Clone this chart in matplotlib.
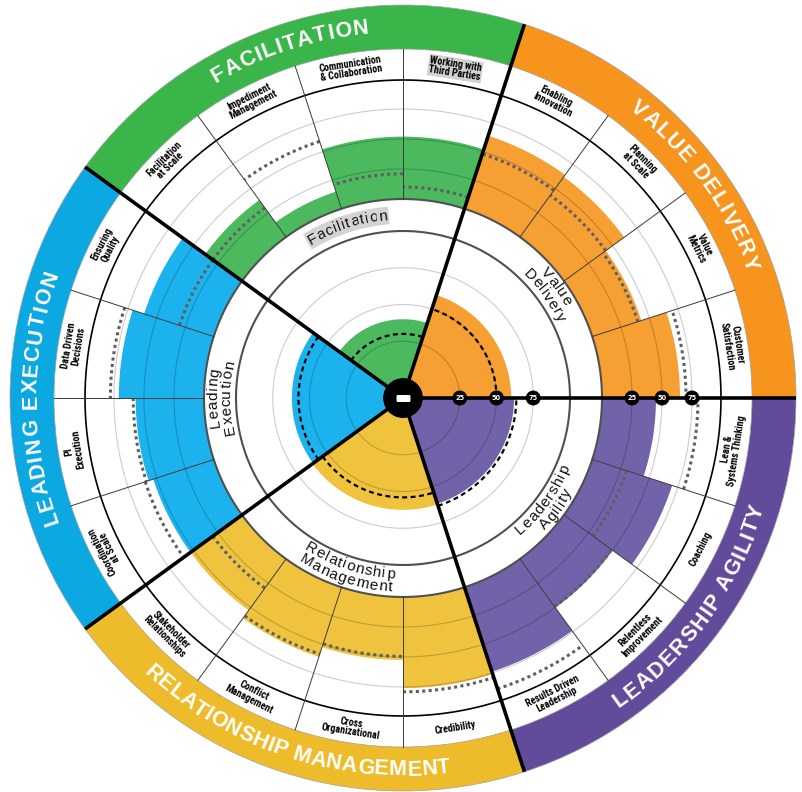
import numpy as np
import matplotlib
matplotlib.use("Agg")
import matplotlib.pyplot as plt
from matplotlib import font_manager
from matplotlib.font_manager import FontProperties, findfont, get_font

# five competency groups, counter-clockwise from 3 o'clock
group_titles = ["VALUE DELIVERY", "FACILITATION", "LEADING EXECUTION",
                "RELATIONSHIP MANAGEMENT", "LEADERSHIP AGILITY"]
inner_titles = ["Value\nDelivery", "Facilitation", "Leading\nExecution",
                "Relationship\nManagement", "Leadership\nAgility"]
group_score = [60, 40, 62, 62.5, 62]
group_bench = [50, 30, 57.5, 54, 63.5]

competencies = [
    "Customer\nSatisfaction", "Value\nMetrics", "Planning\nat Scale", "Enabling\nInnovation",
    "Working with\nThird Parties", "Communication\n& Collaboration", "Impediment\nManagement",
    "Facilitation\nat Scale",
    "Ensuring\nQuality", "Data Driven\nDecisions", "PI\nExecution", "Coordination\nat Scale",
    "Stakeholder\nRelationships", "Conflict\nManagement", "Cross\nOrganizational", "Credibility",
    "Results Driven\nLeadership", "Relentless\nImprovement", "Coaching", "Lean &\nSystems Thinking",
]
comp_score = [65, 43, 62, 64, 52, 52, 15, 38, 61, 71, 57, 53,
              53, 61, 52.5, 76, 74, 50, 70, 45]
comp_bench = [70, 40, 43, 48, 10, 21, 59, 30, 30, 78, 59, 60,
              30, 58.5, 49.5, 79, 89, 49, 30, 80]
ticks = [25, 50, 75]

band_colors = ["#F7941D", "#3AB54A", "#0BA8E2", "#EEBC2A", "#634B9C"]
bar_colors = ["#F6A033", "#4CB95E", "#1CB2ED", "#F0C33E", "#7262A9"]
title_spans = [31.8, 25.4, 39.6, 50.7, 38.5]   # degrees covered by each band title

# radii in pixels (1 r unit = 1 px)
R_IN0, R_IN1 = 20, 167
R_OUT0, R_OUT1 = 199, 319
R_LAB = 318
R_BAND, R_EDGE = 349, 393


def r_in(v):
    return R_IN0 + (R_IN1 - R_IN0) * np.asarray(v, dtype=float) / 100


def r_out(v):
    return R_OUT0 + (R_OUT1 - R_OUT0) * np.asarray(v, dtype=float) / 100


def pick_family(cands, fallback):
    have = {(f.name, f.weight) for f in font_manager.fontManager.ttflist}
    for c in cands:
        if (c, 700) in have:
            return c
    return fallback


COND = pick_family(["Roboto Condensed", "Archivo Narrow", "Saira SemiCondensed"], "DejaVu Sans")


def arc_text(ax, text, r, theta_c, size, outward, span=None, track=0.0,
             family="Liberation Sans", weight="normal", **kw):
    fp = FontProperties(family=family, weight=weight, size=size)
    font = get_font(findfont(fp))
    font.set_size(size, 72)
    adv = np.array([font.load_char(ord(c)).linearHoriAdvance / 65536 for c in text]) * 100 / 72
    if span is not None:
        track = (np.deg2rad(span) * r - adv.sum()) / (len(text) - 1)
    pos = np.cumsum(adv + track) - adv / 2 - track
    total = adv.sum() + track * (len(text) - 1)
    offs = (pos - total / 2) / r
    sign = -1 if outward else 1
    for c, o in zip(text, offs):
        th = np.deg2rad(theta_c) + sign * o
        rot = np.rad2deg(th) - 90 if outward else np.rad2deg(th) + 90
        ax.text(th, r, c, fontproperties=fp, rotation=rot, rotation_mode="anchor",
                ha="center", va="center", **kw)


fig = plt.figure(figsize=(8.02, 7.92), dpi=100)
cx, cy, R = 403, 792 - 398, 400
ax = fig.add_axes([(cx - R) / 802, (cy - R) / 792, 2 * R / 802, 2 * R / 792], projection="polar")

ng, nc = len(group_titles), len(competencies)
gw, cw = 2 * np.pi / ng, 2 * np.pi / nc
th_g = (np.arange(ng) + 0.5) * gw
th_c = (np.arange(nc) + 0.5) * cw
ccol = [bar_colors[j // 4] for j in range(nc)]
full = np.linspace(0, 2 * np.pi, 721)

# outer coloured band
ax.bar(th_g, R_EDGE - R_BAND, width=gw, bottom=R_BAND, color=band_colors,
       edgecolor="#a0a0a0", linewidth=0.5)

# bars
ax.bar(th_g, r_in(group_score) - R_IN0, width=gw, bottom=R_IN0, color=bar_colors, linewidth=0)
ax.bar(th_c, r_out(comp_score) - R_OUT0, width=cw, bottom=R_OUT0, color=ccol, linewidth=0)

# grid rings
for t in ticks:
    ax.plot(full, np.full_like(full, r_in(t)), color="k", alpha=0.2, lw=0.8)
    ax.plot(full, np.full_like(full, r_out(t)), color="k", alpha=0.2, lw=0.8)
ax.plot(full, np.full_like(full, R_IN1), color="#505050", lw=1.5)
ax.plot(full, np.full_like(full, R_OUT0), color="#505050", lw=1.5)
ax.plot(full, np.full_like(full, R_LAB), color="k", lw=1.2)

# benchmarks
for i, b in enumerate(group_bench):
    th = np.linspace(i * gw, (i + 1) * gw, 100)
    ax.plot(th, np.full_like(th, r_in(b)), color="k", lw=1.6, ls=(0, (2.2, 1.6)))
for j, b in enumerate(comp_bench):
    th = np.linspace(j * cw, (j + 1) * cw, 40)
    ax.plot(th, np.full_like(th, r_out(b)), color="#5e5f62", lw=2.2, ls=(0, (1, 1.1)))

# dividers
for j in range(nc):
    if j % 4:
        ax.plot([j * cw] * 2, [R_OUT0, R_BAND], color="#3a3a3a", lw=0.7)
for i in range(ng):
    ax.plot([i * gw] * 2, [0, R_EDGE], color="k", lw=2.6, solid_capstyle="butt", zorder=3)

# centre button
ax.bar(0, R_IN0, width=2 * np.pi, bottom=0, color="k", linewidth=0, zorder=5)
ax.plot(0, 0, marker="_", ms=10, mew=3.8, color="white", zorder=6)

# tick badges
for t in ticks:
    for r in (r_in(t), r_out(t)):
        ax.text(0, r, str(t), ha="center", va="center", color="white", fontsize=4.8,
                fontweight="bold", zorder=7,
                bbox=dict(boxstyle="circle,pad=0.38", fc="black", ec="black", lw=0.5))

# competency labels
for j, name in enumerate(competencies):
    deg = np.rad2deg(th_c[j])
    rot = deg - 90 if deg < 215 else deg - 270
    extra = {}
    if name.startswith("Working"):
        extra["bbox"] = dict(boxstyle="square,pad=0.1", fc="#d2d2d2", ec="none")
    ax.text(th_c[j], (R_LAB + R_BAND) / 2, name, rotation=rot, rotation_mode="anchor",
            ha="center", va="center", ma="center", linespacing=0.95, fontsize=7.2,
            family=COND, fontweight="bold", color="black", **extra)

# group titles on the band and inside the ring
for i in range(ng):
    deg = np.rad2deg(th_g[i])
    outward = deg < 215
    arc_text(ax, group_titles[i], (R_BAND + R_EDGE) / 2 + 1, deg, 15.5, outward,
             span=title_spans[i], weight="bold", color="white")
    lines = inner_titles[i].split("\n")
    if len(lines) == 1:
        radii = [183]
    else:
        radii = [190, 176.5] if outward else [176.5, 190]
    for line, r in zip(lines, radii):
        kw = {}
        if line == "Facilitation":
            kw["bbox"] = dict(boxstyle="square,pad=0.12", fc="#d4d4d4", ec="none")
        arc_text(ax, line, r, deg, 11, outward, track=0.9, color="#111111", **kw)

ax.set_ylim(0, R)
ax.set_axis_off()

fig.savefig("out.png", dpi=100)
